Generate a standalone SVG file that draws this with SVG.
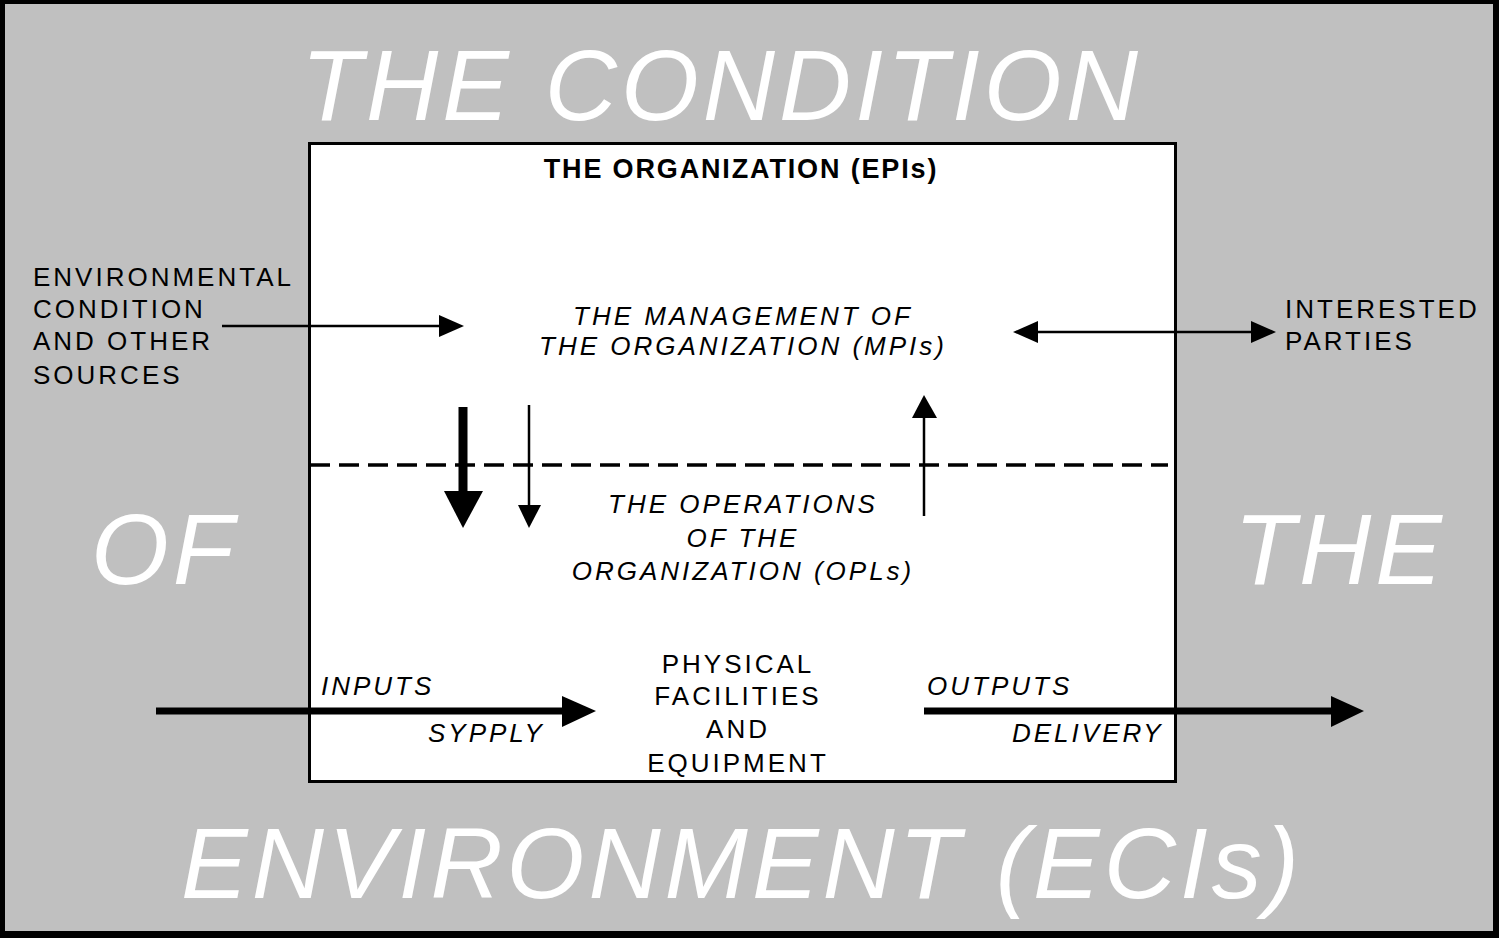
<svg xmlns="http://www.w3.org/2000/svg" width="1499" height="938" viewBox="0 0 1499 938">
<style>
.big{font-family:"Liberation Sans",Arial,sans-serif;font-style:italic;font-size:100px;fill:#ffffff;letter-spacing:4px}
.lbl{font-family:"Liberation Sans",Arial,sans-serif;font-size:26px;fill:#000;letter-spacing:3px}
.it{font-style:italic}
.ctr{text-anchor:middle}
.thin{stroke:#000;stroke-width:2.5;fill:none}
.thick{stroke:#000;stroke-width:7;fill:none}
</style>
<g id="background">
<rect x="0" y="0" width="1499" height="938" fill="#000"/>
<rect x="5" y="4" width="1488" height="927" fill="#c0c0c0"/>
</g>
<g id="env-title">
<text class="big" x="301" y="120">THE CONDITION</text>
<text class="big" x="91" y="584">OF</text>
<text class="big" x="1234" y="584">THE</text>
<text class="big" x="181" y="898">ENVIRONMENT (ECIs)</text>
</g>
<g id="organization">
<rect x="309.5" y="143.5" width="866" height="638" fill="#fff" stroke="#000" stroke-width="3"/>
<text x="741" y="178" text-anchor="middle" style="font-family:'Liberation Sans',Arial,sans-serif;font-weight:bold;font-size:27px;letter-spacing:1.85px">THE ORGANIZATION (EPIs)</text>
<line x1="310" y1="465" x2="1168" y2="465" stroke="#000" stroke-width="3.5" stroke-dasharray="20,9"/>
</g>
<g id="management">
<text class="lbl it ctr" x="743" y="325">THE MANAGEMENT OF</text>
<text class="lbl it ctr" x="743" y="355">THE ORGANIZATION (MPIs)</text>
</g>
<g id="operations">
<text class="lbl it ctr" x="743" y="513">THE OPERATIONS</text>
<text class="lbl it ctr" x="743" y="547">OF THE</text>
<text class="lbl it ctr" x="743" y="580">ORGANIZATION (OPLs)</text>
</g>
<g id="facilities">
<text class="lbl ctr" x="738" y="673">PHYSICAL</text>
<text class="lbl ctr" x="738" y="705">FACILITIES</text>
<text class="lbl ctr" x="738" y="738">AND</text>
<text class="lbl ctr" x="738" y="772">EQUIPMENT</text>
</g>
<g id="env-sources">
<text class="lbl" x="33" y="286">ENVIRONMENTAL</text>
<text class="lbl" x="33" y="318">CONDITION</text>
<text class="lbl" x="33" y="350">AND OTHER</text>
<text class="lbl" x="33" y="384">SOURCES</text>
</g>
<g id="interested-parties">
<text class="lbl" x="1285" y="318">INTERESTED</text>
<text class="lbl" x="1285" y="350">PARTIES</text>
</g>
<g id="flow-labels">
<text class="lbl it" x="321" y="695">INPUTS</text>
<text class="lbl it" x="428" y="742">SYPPLY</text>
<text class="lbl it" x="927" y="695">OUTPUTS</text>
<text class="lbl it" x="1012" y="742">DELIVERY</text>
</g>
<g id="connectors">
<line class="thin" x1="222" y1="326" x2="442" y2="326"/>
<polygon points="439,315 464,326 439,337"/>
<line class="thin" x1="1035" y1="332" x2="1254" y2="332"/>
<polygon points="1038,321 1013,332 1038,343"/>
<polygon points="1251,321 1276,332 1251,343"/>
<line x1="463" y1="407" x2="463" y2="494" stroke="#000" stroke-width="9"/>
<polygon points="444,491 483,491 463,528"/>
<line class="thin" x1="529" y1="405" x2="529" y2="508"/>
<polygon points="518,505 541,505 529,528"/>
<line class="thin" x1="924" y1="516" x2="924" y2="415"/>
<polygon points="912,418 937,418 924,395"/>
<line class="thick" x1="156" y1="711" x2="565" y2="711"/>
<polygon points="562,696 596,711 562,727"/>
<line class="thick" x1="924" y1="711" x2="1334" y2="711"/>
<polygon points="1331,696 1364,711 1331,727"/>
</g>
</svg>
